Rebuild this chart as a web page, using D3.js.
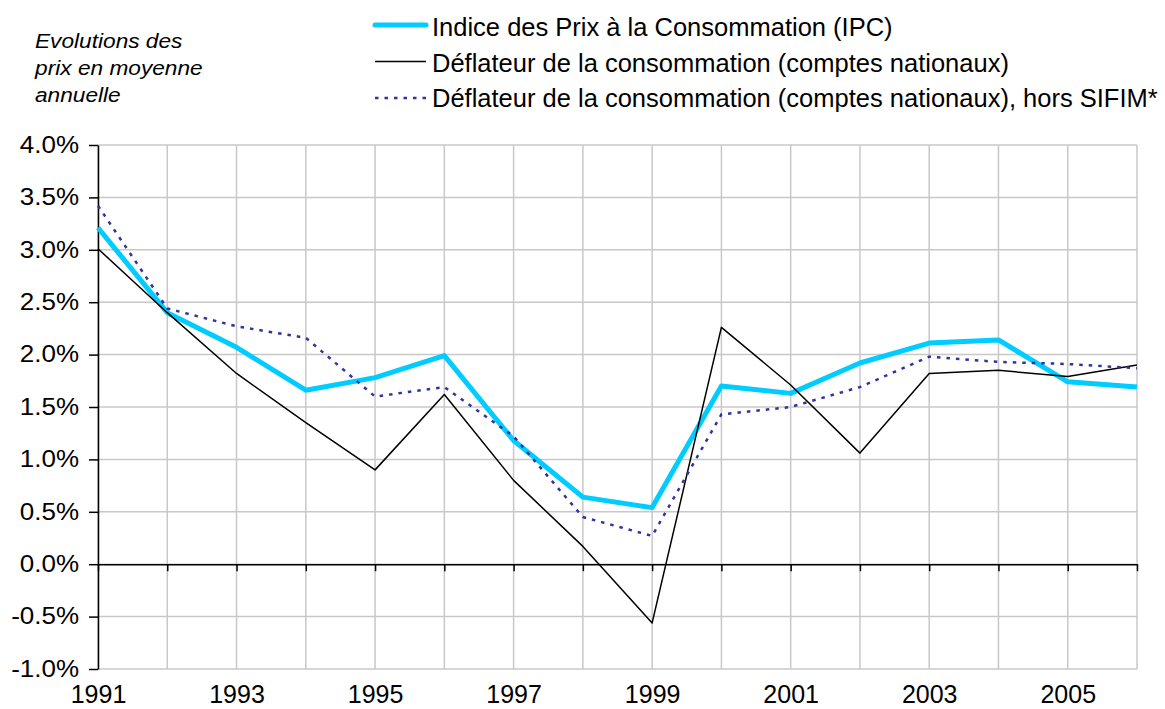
<!DOCTYPE html>
<html>
<head>
<meta charset="utf-8">
<script src="https://cdn.jsdelivr.net/npm/d3@7"></script>
<style>
  body { margin: 0; background: #fff; }
  svg text { font-family: "Liberation Sans", Arial, Helvetica, sans-serif; fill: #000; }
  .stretch { transform-box: fill-box; }
</style>
</head>
<body>
<div class="chart"></div>
<script>
let w = 1165;
let h = 709;
let margin = { top: 145, right: 28, bottom: 40, left: 98 };

// valeurs (en %)
const years = [1991, 1992, 1993, 1994, 1995, 1996, 1997, 1998, 1999, 2000, 2001, 2002, 2003, 2004, 2005, 2006];
const ipc = [3.21, 2.40, 2.07, 1.66, 1.78, 1.99, 1.18, 0.64, 0.54, 1.70, 1.63, 1.92, 2.11, 2.14, 1.74, 1.69];
const deflateur = [3.01, 2.40, 1.82, 1.35, 0.90, 1.62, 0.80, 0.17, -0.56, 2.26, 1.71, 1.06, 1.82, 1.85, 1.79, 1.90];
const horsSifim = [3.42, 2.44, 2.27, 2.16, 1.60, 1.69, 1.22, 0.45, 0.27, 1.43, 1.50, 1.69, 1.98, 1.93, 1.91, 1.87];

const yTicks = [-1.0, -0.5, 0.0, 0.5, 1.0, 1.5, 2.0, 2.5, 3.0, 3.5, 4.0];
const xLabels = [1991, 1993, 1995, 1997, 1999, 2001, 2003, 2005];

const seriesNames = [
  "Indice des Prix à la Consommation (IPC)",
  "Déflateur de la consommation (comptes nationaux)",
  "Déflateur de la consommation (comptes nationaux), hors SIFIM*"
];
const titleLines = ["Evolutions des", "prix en moyenne", "annuelle"];

const series = [
  { name: seriesNames[0], values: ipc, color: "#00ccff", width: 5, dash: null },
  { name: seriesNames[1], values: deflateur, color: "#000000", width: 1.5, dash: null },
  { name: seriesNames[2], values: horsSifim, color: "#333399", width: 2.5, dash: "3.5,6" }
];

const svg = d3.select(".chart")
  .append("svg")
  .attr("width", w)
  .attr("height", h);

const xScale = d3.scaleLinear()
  .domain([1991, 2006])
  .range([margin.left, w - margin.right]);

const yScale = d3.scaleLinear()
  .domain([-1, 4])
  .range([h - margin.bottom, margin.top]);

// grille
svg.append("g")
  .selectAll("line")
  .data(yTicks)
  .enter()
  .append("line")
  .attr("x1", margin.left)
  .attr("x2", w - margin.right)
  .attr("y1", d => yScale(d))
  .attr("y2", d => yScale(d))
  .attr("stroke", "#c8c8c8")
  .attr("stroke-width", 1.5);

svg.append("g")
  .selectAll("line")
  .data(years)
  .enter()
  .append("line")
  .attr("x1", d => xScale(d))
  .attr("x2", d => xScale(d))
  .attr("y1", margin.top)
  .attr("y2", h - margin.bottom)
  .attr("stroke", "#c8c8c8")
  .attr("stroke-width", 1.5);

// axe x sur le zéro
const xAxis = d3.axisBottom(xScale)
  .tickValues(years)
  .tickSize(7)
  .tickSizeOuter(0)
  .tickFormat("");

svg.append("g")
  .attr("transform", "translate(0," + yScale(0) + ")")
  .call(xAxis)
  .call(g => g.selectAll("path, line").attr("stroke", "#000").attr("stroke-width", 1.5));

// libellés des années en bas
svg.append("g")
  .attr("transform", "translate(0," + (h - margin.bottom) + ")")
  .call(d3.axisBottom(xScale).tickValues(xLabels).tickSize(0).tickPadding(16.5).tickFormat(d3.format("d")))
  .call(g => g.select(".domain").remove())
  .call(g => g.selectAll("text").style("font-size", "25px"));

// axe y
const yAxis = d3.axisLeft(yScale)
  .tickValues(yTicks)
  .tickSize(9)
  .tickSizeOuter(0)
  .tickPadding(10)
  .tickFormat(d => d3.format(".1f")(d).replace("−", "-") + "%");

svg.append("g")
  .attr("transform", "translate(" + margin.left + ",0)")
  .call(yAxis)
  .call(g => g.selectAll("path, line").attr("stroke", "#000").attr("stroke-width", 1.5))
  .call(g => g.selectAll("text")
    .style("font-size", "23px")
    .attr("class", "stretch")
    .style("transform-origin", "right center")
    .style("transform", "scaleX(1.13)"));

// courbes
const line = d3.line()
  .x((d, i) => xScale(years[i]))
  .y(d => yScale(d));

series.forEach(s => {
  svg.append("path")
    .datum(s.values)
    .attr("fill", "none")
    .attr("stroke", s.color)
    .attr("stroke-width", s.width)
    .attr("stroke-dasharray", s.dash)
    .attr("stroke-linejoin", "round")
    .attr("d", line);
});

// légende
const legend = svg.append("g");
legend.selectAll("line")
  .data(series)
  .enter()
  .append("line")
  .attr("x1", 375)
  .attr("x2", 426)
  .attr("y1", (d, i) => 25 + i * 36.5)
  .attr("y2", (d, i) => 25 + i * 36.5)
  .attr("stroke", d => d.color)
  .attr("stroke-width", d => d.width)
  .attr("stroke-dasharray", d => d.dash)
  .attr("stroke-linecap", d => d.width > 3 ? "round" : "butt");

legend.selectAll("text")
  .data(series)
  .enter()
  .append("text")
  .attr("x", 432)
  .attr("y", (d, i) => 36 + i * 35.5)
  .style("font-size", "25.5px")
  .text(d => d.name);

// titre de l'axe
svg.append("g")
  .selectAll("text")
  .data(titleLines)
  .enter()
  .append("text")
  .attr("x", 35)
  .attr("y", (d, i) => 48 + i * 27)
  .attr("class", "stretch")
  .style("font-size", "21px")
  .style("font-style", "italic")
  .style("transform-origin", "left center")
  .style("transform", "scaleX(1.08)")
  .text(d => d);
</script>
</body>
</html>
